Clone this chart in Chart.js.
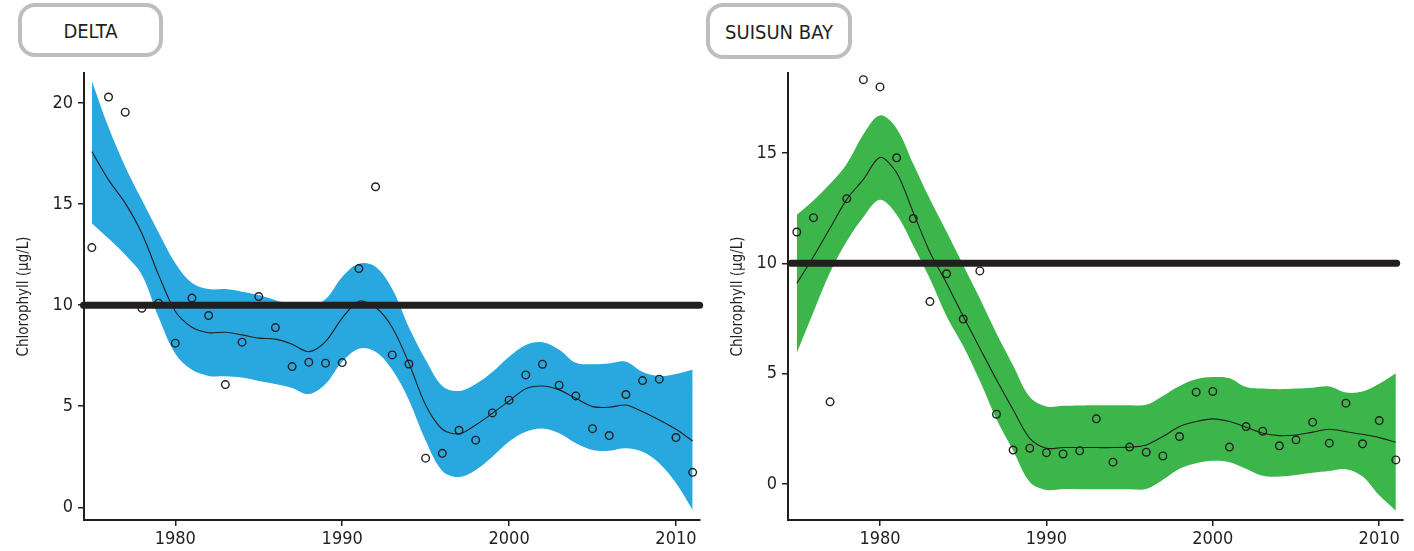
<!DOCTYPE html>
<html>
<head>
<meta charset="utf-8">
<script src="https://cdn.jsdelivr.net/npm/chart.js@4/dist/chart.umd.min.js"></script>
<style>
  html, body { margin: 0; padding: 0; background: #fff; }
  body { width: 1414px; height: 551px; position: relative; overflow: hidden; }
  .panel { position: absolute; top: 0; height: 551px; }
  .tag {
    position: absolute; box-sizing: border-box;
    border: 4px solid #bcbec0; border-radius: 17px; background: #fff;
    display: flex; align-items: center; justify-content: center;
    font-family: 'Liberation Sans Narrow', 'DejaVu Sans Condensed', sans-serif;
    color: #231f20; padding-top: 2px; z-index: 2;
  }
</style>
</head>
<body>
<div class="tag" style="left:18px; top:3px; width:145px; height:54px; font-size:20px;">DELTA</div>
<div class="tag" style="left:706px; top:3px; width:146px; height:56px; font-size:20px;">SUISUN BAY</div>
<div class="panel" style="left:0; width:707px;"><canvas id="delta"></canvas></div>
<div class="panel" style="left:707px; width:707px;"><canvas id="suisun"></canvas></div>

<script>
// years sampled (one value per year)
const YEARS = [1975, 1976, 1977, 1978, 1979, 1980, 1981, 1982, 1983, 1984,
               1985, 1986, 1987, 1988, 1989, 1990, 1991, 1992, 1993, 1994,
               1995, 1996, 1997, 1998, 1999, 2000, 2001, 2002, 2003, 2004,
               2005, 2006, 2007, 2008, 2009, 2010, 2011];

const X_TICKS = [1980, 1990, 2000, 2010];
const DELTA_Y_TICKS = [0, 5, 10, 15, 20];
const SUISUN_Y_TICKS = [0, 5, 10, 15];
const THRESHOLD = 10;

// Delta: annual means, smoothed fit and confidence band
const DELTA_OBS = [12.85, 20.3, 19.55, 9.85, 10.1, 8.12, 10.35, 9.49, 6.07, 8.17,
                   10.43, 8.89, 6.96, 7.18, 7.13, 7.16, 11.81, 15.86, 7.54, 7.09,
                   2.43, 2.67, 3.81, 3.32, 4.67, 5.30, 6.55, 7.08, 6.04, 5.51,
                   3.89, 3.55, 5.58, 6.27, 6.34, 3.45, 1.73];
const DELTA_FIT = [17.6, 16.2, 15.05, 13.55, 11.5, 9.7, 8.91, 8.64, 8.66, 8.53,
                   8.37, 8.32, 8.07, 7.70, 8.20, 9.36, 10.2, 9.9, 8.9, 7.13,
                   5.06, 3.86, 3.63, 4.07, 4.65, 5.26, 5.87, 6.00, 5.81, 5.39,
                   4.98, 4.95, 5.06, 4.73, 4.32, 3.86, 3.28];
const DELTA_UPPER = [21.1, 18.8, 16.85, 15.2, 13.6, 12.08, 11.1, 10.8, 10.8, 10.67,
                     10.5, 10.25, 10.05, 9.95, 10.3, 11.4, 12.05, 11.9, 10.8, 8.9,
                     7.3, 6.0, 5.75, 6.1, 6.7, 7.45, 8.03, 8.17, 7.8, 7.15,
                     7.08, 7.12, 7.2, 6.7, 6.5, 6.6, 6.8];
const DELTA_LOWER = [14.06, 13.3, 12.5, 11.5, 9.4, 7.6, 6.8, 6.5, 6.48, 6.42,
                     6.25, 6.1, 5.9, 5.6, 6.1, 7.2, 7.85, 7.7, 6.8, 5.3,
                     3.3, 1.8, 1.5, 1.85, 2.5, 3.25, 3.74, 3.9, 3.66, 3.17,
                     2.84, 2.8, 2.92, 2.75, 2.18, 1.2, -0.13];

// Suisun Bay
const SUISUN_OBS = [11.42, 12.07, 3.73, 12.93, 18.32, 17.99, 14.78, 12.03, 8.27, 9.53,
                    7.48, 9.66, 3.17, 1.55, 1.63, 1.43, 1.37, 1.51, 2.96, 1.0,
                    1.68, 1.45, 1.28, 2.16, 4.17, 4.20, 1.68, 2.61, 2.40, 1.74,
                    2.01, 2.81, 1.86, 3.67, 1.83, 2.88, 1.10];
const SUISUN_FIT = [9.1, 10.3, 11.6, 12.9, 13.8, 14.8, 14.1, 12.3, 10.5, 9.1,
                    7.6, 6.16, 4.73, 3.37, 2.08, 1.63, 1.66, 1.66, 1.66, 1.66,
                    1.68, 1.78, 2.16, 2.61, 2.84, 2.96, 2.84, 2.58, 2.31, 2.2,
                    2.23, 2.36, 2.49, 2.38, 2.26, 2.11, 1.90];
const SUISUN_UPPER = [12.2, 12.85, 13.6, 14.5, 15.85, 16.7, 16.1, 14.5, 12.9, 11.43,
                      9.92, 8.41, 6.83, 5.38, 3.95, 3.52, 3.55, 3.57, 3.58, 3.58,
                      3.58, 3.6, 4.0, 4.45, 4.75, 4.85, 4.8, 4.4, 4.33, 4.3,
                      4.33, 4.37, 4.42, 4.15, 4.2, 4.55, 5.03];
const SUISUN_LOWER = [5.94, 7.8, 9.6, 11.0, 12.1, 12.88, 12.2, 10.8, 9.3, 7.61,
                      6.26, 4.68, 2.94, 1.53, 0.1, -0.26, -0.22, -0.23, -0.23, -0.23,
                      -0.23, -0.22, 0.2, 0.7, 0.95, 1.06, 1.0, 0.7, 0.38, 0.35,
                      0.42, 0.52, 0.6, 0.68, 0.35, -0.5, -1.2];

const INK = '#231f20';
const FONT = "'Liberation Sans Narrow', 'DejaVu Sans Condensed', sans-serif";

const xy = vals => vals.map((v, i) => ({ x: YEARS[i], y: v }));

function makePanel(canvasId, cfg) {
    const ctx = document.getElementById(canvasId);

    new Chart(ctx, {
        type: 'line',
        data: {
            datasets: [
                {
                    // threshold line, 10 µg/L
                    data: [{ x: cfg.lineFrom, y: THRESHOLD }, { x: cfg.lineTo, y: THRESHOLD }],
                    borderColor: INK,
                    borderWidth: 7,
                    borderCapStyle: 'round',
                    pointRadius: 0,
                    clip: false,
                    order: 0
                },
                {
                    data: xy(cfg.obs),
                    showLine: false,
                    pointRadius: 3.8,
                    pointBorderWidth: 1.4,
                    pointBorderColor: INK,
                    pointBackgroundColor: 'rgba(0,0,0,0)',
                    order: 1
                },
                {
                    data: xy(cfg.fit),
                    borderColor: INK,
                    borderWidth: 1.1,
                    pointRadius: 0,
                    tension: 0.3,
                    order: 2
                },
                {
                    data: xy(cfg.upper),
                    borderWidth: 0,
                    borderColor: 'rgba(0,0,0,0)',
                    backgroundColor: cfg.color,
                    pointRadius: 0,
                    tension: 0.35,
                    fill: '+1',
                    order: 3
                },
                {
                    data: xy(cfg.lower),
                    borderWidth: 0,
                    borderColor: 'rgba(0,0,0,0)',
                    pointRadius: 0,
                    tension: 0.35,
                    fill: false,
                    order: 4
                }
            ]
        },
        options: {
            responsive: false,
            animation: false,
            layout: { padding: { top: 73, right: cfg.padRight, bottom: 0, left: 0 } },
            plugins: {
                legend: { display: false },
                tooltip: { enabled: false }
            },
            scales: {
                x: {
                    type: 'linear',
                    min: cfg.xMin,
                    max: cfg.xMax,
                    afterBuildTicks: s => { s.ticks = X_TICKS.map(v => ({ value: v })); },
                    afterFit: s => { s.height = 31; },
                    grid: { drawOnChartArea: false, drawTicks: true, tickLength: 6, color: INK, lineWidth: 1.5 },
                    border: { display: true, color: INK, width: 2 },
                    ticks: {
                        color: INK, padding: 3,
                        font: { family: FONT, size: 18 },
                        callback: v => String(v)
                    }
                },
                y: {
                    min: cfg.yMin,
                    max: cfg.yMax,
                    afterBuildTicks: s => { s.ticks = cfg.yTicks.map(v => ({ value: v })); },
                    afterFit: s => { s.width = cfg.axisWidth; },
                    grid: { drawOnChartArea: false, drawTicks: true, tickLength: 6, color: INK, lineWidth: 1.5 },
                    border: { display: true, color: INK, width: 2 },
                    ticks: {
                        color: INK, padding: 5,
                        font: { family: FONT, size: 18 }
                    },
                    title: {
                        display: true,
                        text: 'Chlorophyll (µg/L)',
                        color: INK,
                        font: { family: FONT, size: 15 },
                        padding: { top: cfg.titlePad, bottom: 0 }
                    }
                }
            }
        }
    });
}

function sizeCanvas(id) {
    const c = document.getElementById(id);
    c.width = 707;
    c.height = 551;
    c.style.width = '707px';
    c.style.height = '551px';
}

sizeCanvas('delta');
sizeCanvas('suisun');

makePanel('delta', {
    obs: DELTA_OBS, fit: DELTA_FIT, upper: DELTA_UPPER, lower: DELTA_LOWER,
    color: '#29a8e0',
    xMin: 1974.53, xMax: 2011.44, lineFrom: 1974.5, lineTo: 2011.42,
    yMin: -0.63, yMax: 21.49, yTicks: DELTA_Y_TICKS,
    axisWidth: 84, padRight: 7, titlePad: 15
});

makePanel('suisun', {
    obs: SUISUN_OBS, fit: SUISUN_FIT, upper: SUISUN_UPPER, lower: SUISUN_LOWER,
    color: '#3cb54a',
    xMin: 1974.47, xMax: 2011.43, lineFrom: 1974.65, lineTo: 2011.05,
    yMin: -1.62, yMax: 18.62, yTicks: SUISUN_Y_TICKS,
    axisWidth: 81, padRight: 11, titlePad: 22
});
</script>
</body>
</html>
